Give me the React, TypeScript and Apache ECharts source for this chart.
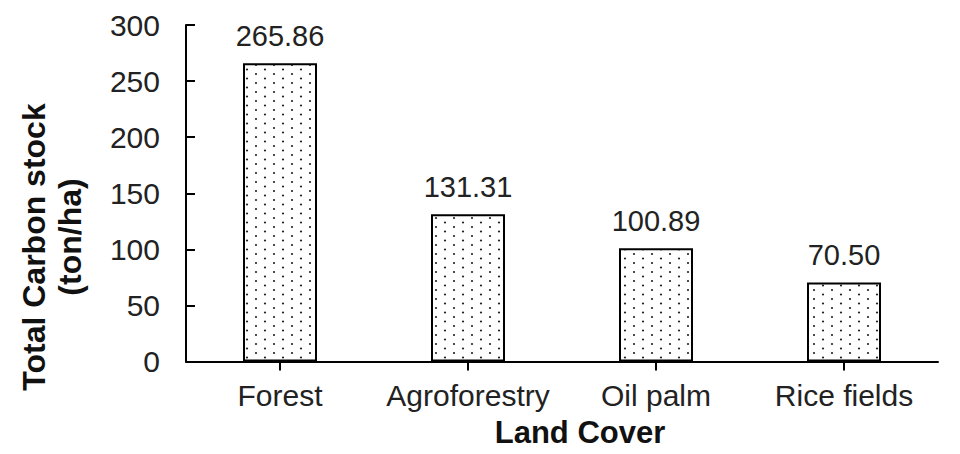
import React, { useEffect, useRef } from "react";
import * as echarts from "echarts";

const categories: string[] = ["Forest", "Agroforestry", "Oil palm", "Rice fields"];
const carbonStock: number[] = [265.86, 131.31, 100.89, 70.5];
const yTicks: number[] = [0, 50, 100, 150, 200, 250, 300];
const yTitleLines: string[] = ["Total Carbon stock", "(ton/ha)"];
const xTitle = "Land Cover";

const FONT = "'Liberation Sans', Arial, sans-serif";

function makeDotPattern(): HTMLCanvasElement {
  const c = document.createElement("canvas");
  c.width = 18;
  c.height = 9;
  const ctx = c.getContext("2d")!;
  ctx.fillStyle = "#ffffff";
  ctx.fillRect(0, 0, 18, 9);
  ctx.fillStyle = "#222222";
  ctx.beginPath();
  ctx.arc(4, 2, 1.1, 0, Math.PI * 2);
  ctx.fill();
  ctx.beginPath();
  ctx.arc(13, 6.5, 1.1, 0, Math.PI * 2);
  ctx.fill();
  return c;
}

export default function App() {
  const ref = useRef<HTMLDivElement>(null);
  useEffect(() => {
    if (!ref.current) return;
    const chart = echarts.init(ref.current, undefined, { renderer: "svg" });
    const pattern = makeDotPattern();
    chart.setOption({
      animation: false,
      backgroundColor: "#ffffff",
      grid: { left: 186, right: 22, top: 25, bottom: 92.5, containLabel: false },
      xAxis: {
        type: "category",
        data: categories,
        axisLine: { show: true, lineStyle: { color: "#000", width: 2 } },
        axisTick: { show: true, alignWithLabel: true, inside: false, length: 9, lineStyle: { color: "#000", width: 2 } },
        axisLabel: { color: "#222", fontSize: 30, fontFamily: FONT, margin: 19, interval: 0 },
        splitLine: { show: false },
      },
      yAxis: {
        type: "value",
        min: yTicks[0],
        max: yTicks[yTicks.length - 1],
        interval: 50,
        axisLine: { show: true, lineStyle: { color: "#000", width: 2 } },
        axisTick: { show: true, inside: true, length: 9, lineStyle: { color: "#000", width: 2 } },
        axisLabel: { color: "#222", fontSize: 30, fontFamily: FONT, margin: 26 },
        splitLine: { show: false },
      },
      series: [
        {
          type: "bar",
          data: carbonStock,
          barWidth: 74,
          itemStyle: {
            color: { image: pattern, repeat: "repeat" },
            borderColor: "#000",
            borderWidth: 2,
          },
          label: {
            show: true,
            position: "top",
            distance: 13,
            color: "#222",
            fontSize: 29,
            fontFamily: FONT,
            formatter: (p: any) => Number(p.value).toFixed(2),
          },
        },
      ],
      graphic: [
        {
          type: "text",
          x: 34,
          y: 247,
          rotation: Math.PI / 2,
          style: {
            text: yTitleLines[0],
            font: `bold 32px ${FONT}`,
            fill: "#111",
            textAlign: "center",
            textVerticalAlign: "middle",
          },
        },
        {
          type: "text",
          x: 70,
          y: 237,
          rotation: Math.PI / 2,
          style: {
            text: yTitleLines[1],
            font: `bold 32px ${FONT}`,
            fill: "#111",
            textAlign: "center",
            textVerticalAlign: "middle",
          },
        },
        {
          type: "text",
          x: 580,
          y: 432,
          style: {
            text: xTitle,
            font: `bold 31px ${FONT}`,
            fill: "#111",
            textAlign: "center",
            textVerticalAlign: "middle",
          },
        },
      ],
    });
    return () => chart.dispose();
  }, []);
  return (
    <div
      ref={ref}
      style={{ position: "fixed", left: 0, top: 0, width: 960, height: 454, background: "#fff" }}
    />
  );
}
